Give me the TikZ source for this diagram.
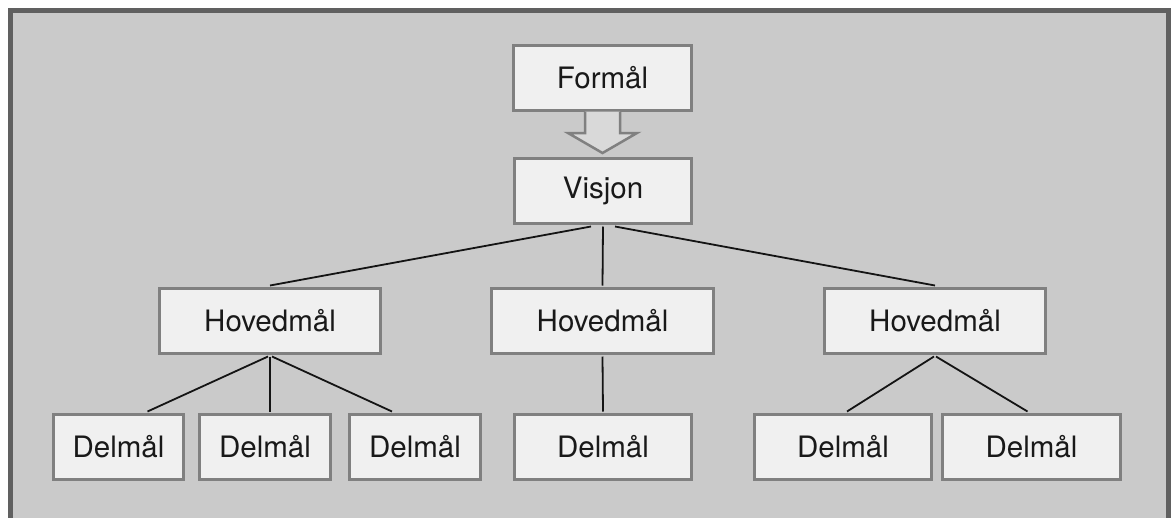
\documentclass[tikz,border=0pt]{standalone}
\usepackage{fontspec}
\setmainfont{TeX Gyre Heros}
\definecolor{pagebg}{RGB}{202,202,202}
\definecolor{boxfill}{RGB}{240,240,240}
\definecolor{boxline}{RGB}{128,128,128}
\definecolor{framecol}{RGB}{96,96,96}
\definecolor{linkcol}{RGB}{20,20,20}
\begin{document}
\begin{tikzpicture}[x=1pt,y=-1pt,
  goal/.style={draw=boxline, line width=3pt, fill=boxfill, rectangle,
    inner sep=0pt, minimum height=65pt,
    font=\fontsize{29.5}{31}\selectfont, text=black!90},
  link/.style={draw=linkcol, line width=1.8pt}]
\useasboundingbox (0,0) rectangle (1173,517);
\clip (0,0) rectangle (1173,517);
\fill[white] (0,0) rectangle (1173,517);
\fill[pagebg] (10,10) rectangle (1168,540);
\draw[framecol, line width=5pt] (10,540) -- (10,10) -- (1168,10) -- (1168,540);

% nodes
\node[goal, minimum width=178pt] (formal) at (602.5,77.5) {Formål};
\node[goal, minimum width=177pt] (visjon) at (603,191) {Visjon};
\node[goal, minimum width=221pt] (h1) at (270,321) {Hovedmål};
\node[goal, minimum width=222pt] (h2) at (602.5,321) {Hovedmål};
\node[goal, minimum width=221pt] (h3) at (935,321) {Hovedmål};
\node[goal, minimum width=130pt] (d1) at (118.5,447) {Delmål};
\node[goal, minimum width=131pt] (d2) at (265,447) {Delmål};
\node[goal, minimum width=131pt] (d3) at (415,447) {Delmål};
\node[goal, minimum width=177pt] (d4) at (603,447) {Delmål};
\node[goal, minimum width=177pt] (d5) at (843,447) {Delmål};
\node[goal, minimum width=178pt] (d6) at (1031.5,447) {Delmål};

% hollow arrow Formål -> Visjon
\draw[boxline, line width=2.5pt, fill=pagebg!60!boxfill, line join=miter]
  (585,111.5) -- (585,133) -- (568,133) -- (602.5,153) -- (637,133)
  -- (620,133) -- (620,111.5);

% connectors
\draw[link] ([xshift=-12pt,yshift=-1.5pt]visjon.south) -- ([yshift=1.5pt]h1.north);
\draw[link] ([yshift=-1.5pt]visjon.south) -- ([yshift=1.5pt]h2.north);
\draw[link] ([xshift=12pt,yshift=-1.5pt]visjon.south) -- ([yshift=1.5pt]h3.north);
\draw[link] ([xshift=-2pt,yshift=-1.5pt]h1.south) -- ([xshift=29pt,yshift=1.5pt]d1.north);
\draw[link] ([yshift=-1.5pt]h1.south) -- ([xshift=5pt,yshift=1.5pt]d2.north);
\draw[link] ([xshift=2pt,yshift=-1.5pt]h1.south) -- ([xshift=-23pt,yshift=1.5pt]d3.north);
\draw[link] ([yshift=-1.5pt]h2.south) -- ([yshift=1.5pt]d4.north);
\draw[link] ([xshift=-1pt,yshift=-1.5pt]h3.south) -- ([xshift=4pt,yshift=1.5pt]d5.north);
\draw[link] ([xshift=1pt,yshift=-1.5pt]h3.south) -- ([xshift=-4pt,yshift=1.5pt]d6.north);
\end{tikzpicture}
\end{document}
